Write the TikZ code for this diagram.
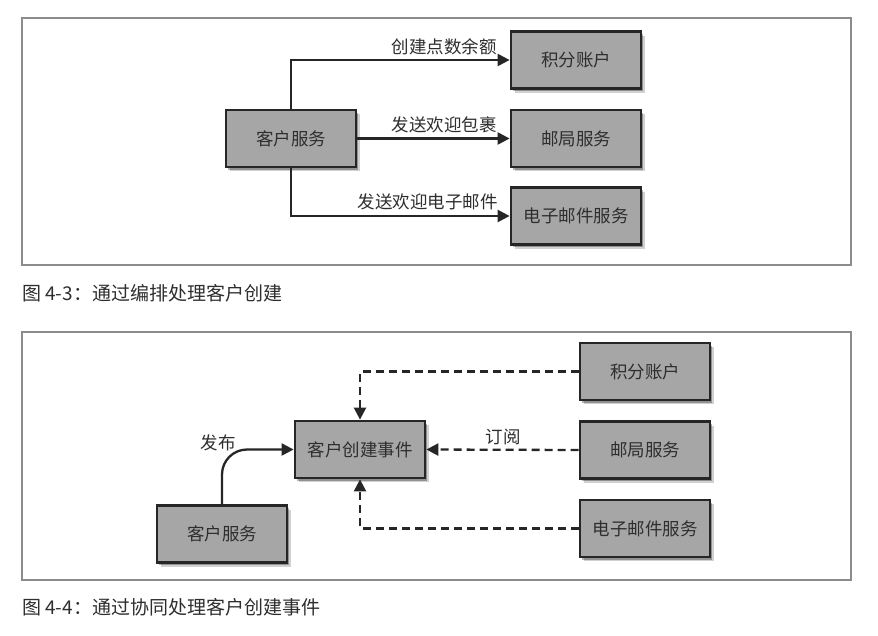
\documentclass[tikz,border=0pt]{standalone}
\usepackage{fontspec}
\setmainfont{Noto Sans CJK SC}
\usetikzlibrary{arrows.meta,shadows,positioning}
\definecolor{boxfill}{HTML}{A6A6A6}
\definecolor{boxline}{HTML}{262626}
\definecolor{inkc}{HTML}{2E2E2E}
\definecolor{framec}{HTML}{8C8C8C}
\tikzset{
  svcbox/.style={draw=boxline, line width=2.8pt, fill=boxfill, minimum width=130pt, minimum height=57pt, inner sep=0pt,
    text=inkc, font=\fontsize{17.5}{20}\selectfont,
    drop shadow={shadow xshift=3.5pt, shadow yshift=-4pt, fill=black, opacity=0.18},
    drop shadow={shadow xshift=2.2pt, shadow yshift=-2.6pt, fill=black, opacity=0.3}},
  flow/.style={draw=boxline, line width=2.3pt, -{Triangle[length=12pt,width=12pt]}},
  subflow/.style={flow, dash pattern=on 8pt off 5pt},
  lbl/.style={inner sep=0pt, text=inkc, font=\fontsize{17.5}{20}\selectfont},
  capt/.style={inner sep=0pt, text=inkc, anchor=west, font=\fontsize{19}{22}\selectfont},
  frame/.style={draw=framec, line width=1.2pt}
}
\begin{document}
\begin{tikzpicture}[x=1pt,y=-1pt]
\useasboundingbox[fill=white] (0,0) rectangle (878,635);
% frames
\draw[frame] (22,18) rectangle (851,265);
\draw[frame] (22,332) rectangle (851,580);
% ---- figure 4-3
\node[svcbox] (cs1) at (291,138.5) {客户服务};
\node[svcbox] (acc1) at (576,60) {积分账户};
\node[svcbox] (post1) at (576,138.5) {邮局服务};
\node[svcbox] (mail1) at (576,216) {电子邮件服务};
\draw[flow] (cs1.north) |- (acc1.west);
\draw[flow] (cs1.east) -- (post1.west);
\draw[flow] (cs1.south) |- (mail1.west);
\node[lbl, anchor=east] (l1) at (497,47) {创建点数余额};
\node[lbl, anchor=east] (l2) at (497,125) {发送欢迎包裹};
\node[lbl, anchor=east] (l3) at (498,202) {发送欢迎电子邮件};
\node[capt] (c1) at (22,293) {图 4-3：通过编排处理客户创建};
% ---- figure 4-4
\node[svcbox] (evt) at (360,449.5) {客户创建事件};
\node[svcbox] (acc2) at (645,371.5) {积分账户};
\node[svcbox] (post2) at (645,450) {邮局服务};
\node[svcbox] (mail2) at (645,528.5) {电子邮件服务};
\node[svcbox] (cs2) at (222,534) {客户服务};
\draw[subflow] (acc2.west) -| (evt.north);
\draw[subflow] (post2.west) -- (evt.east);
\draw[subflow] (mail2.west) -| (evt.south);
\draw[flow, rounded corners=25pt] (cs2.north) |- (evt.west);
\node[lbl] (l4) at (218,443) {发布};
\node[lbl] (l5) at (503,437) {订阅};
\node[capt] (c2) at (22,607) {图 4-4：通过协同处理客户创建事件};
\end{tikzpicture}
\end{document}
